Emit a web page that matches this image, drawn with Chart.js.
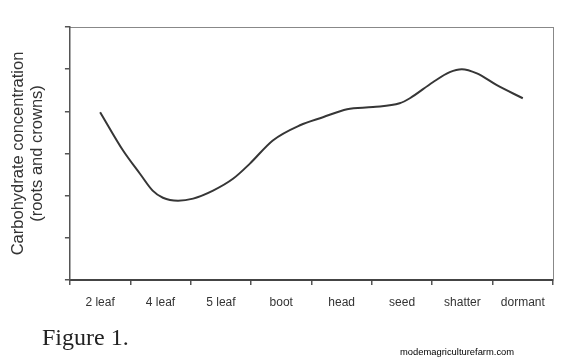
<!DOCTYPE html>
<html>
<head>
<meta charset="utf-8">
<script src="https://cdn.jsdelivr.net/npm/chart.js@4.4.1/dist/chart.umd.min.js"></script>
<style>
  html, body { margin: 0; padding: 0; background: #fff; }
  #wrap { position: relative; width: 565px; height: 362px; }
  #fig { position: absolute; left: 42px; top: 325px; font-family: "Liberation Serif", "Times New Roman", serif; font-size: 24px; line-height: 24px; color: #222; }
  #mark { position: absolute; left: 400px; top: 347px; font-family: "Liberation Sans", Arial, sans-serif; font-size: 9.4px; line-height: 10px; color: #000; }
</style>
</head>
<body>
<div id="wrap">
  <canvas id="chart" width="565" height="362"></canvas>
  <div id="fig">Figure 1.</div>
  <div id="mark">modemagriculturefarm.com</div>
</div>
<script>
// growth stages shown on the x axis
const stages = ["2 leaf", "4 leaf", "5 leaf", "boot", "head", "seed", "shatter", "dormant"];

// curve: position in stage units (0 = left edge, 8 = right edge)
const curveX = [0.50, 0.88, 1.16, 1.37, 1.54, 1.79, 2.04, 2.37, 2.70, 2.98, 3.36, 3.81, 4.19, 4.59, 5.02, 5.46, 5.63, 6.01, 6.29, 6.49, 6.74, 7.07, 7.50];
// relative carbohydrate level (axis has 6 unlabelled steps)
const curveY = [3.98, 3.07, 2.52, 2.12, 1.95, 1.88, 1.93, 2.12, 2.40, 2.76, 3.31, 3.67, 3.86, 4.05, 4.10, 4.19, 4.31, 4.69, 4.93, 5.00, 4.90, 4.62, 4.31];

const yMin = 0, yMax = 6;

const sans = "'Liberation Sans', Arial, sans-serif";

new Chart(document.getElementById("chart"), {
  type: "line",
  data: {
    datasets: [{
      data: curveX.map((x, i) => ({ x: x, y: curveY[i] })),
      xAxisID: "xv",
      yAxisID: "y",
      borderColor: "#363636",
      borderWidth: 2,
      pointRadius: 0,
      cubicInterpolationMode: "monotone",
      fill: false
    }]
  },
  options: {
    responsive: false,
    animation: false,
    layout: { padding: { left: 4, top: 27, right: 12, bottom: 42.6 } },
    plugins: { legend: { display: false }, tooltip: { enabled: false } },
    scales: {
      x: {
        type: "category",
        labels: stages,
        position: "bottom",
        offset: true,
        grid: { offset: true, drawOnChartArea: false, tickLength: 5, color: "#555", lineWidth: 1.5 },
        border: { color: "#444", width: 2 },
        ticks: { color: "#333", padding: 10, font: { family: sans, size: 12 } }
      },
      xv: { type: "linear", display: false, min: 0, max: 8 },
      xt: {
        type: "linear", position: "top", min: 0, max: 8,
        ticks: { display: false }, grid: { display: false, drawTicks: false },
        border: { color: "#888", width: 1 }
      },
      y: {
        type: "linear",
        position: "left",
        min: yMin, max: yMax,
        ticks: { display: false, stepSize: 1 },
        grid: { drawOnChartArea: false, tickLength: 5, color: "#555", lineWidth: 1.5 },
        border: { color: "#555", width: 1.5 },
        title: {
          display: true,
          text: ["Carbohydrate concentration", "(roots and crowns)"],
          color: "#333",
          font: { family: sans, size: 16.5, lineHeight: 1.21 },
          padding: { top: 4, bottom: 17 }
        }
      },
      yr: {
        type: "linear", position: "right", min: yMin, max: yMax,
        ticks: { display: false }, grid: { display: false, drawTicks: false },
        border: { color: "#888", width: 1 }
      }
    }
  }
});
</script>
</body>
</html>
